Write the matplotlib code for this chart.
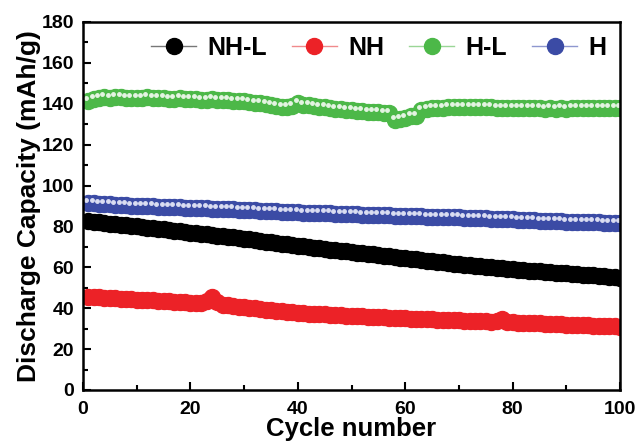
import numpy as np
import matplotlib
matplotlib.use("Agg")
import matplotlib.pyplot as plt
from matplotlib.ticker import MultipleLocator
from matplotlib.transforms import offset_copy

plt.rcParams['font.family'] = ['Liberation Sans', 'DejaVu Sans']
plt.rcParams['font.weight'] = 'bold'

cycles = list(range(1, 101))

# NH-L
nh_l = [82.6, 82.3, 82.0, 81.7, 81.4, 81.1, 80.8, 80.6, 80.3, 80.0,
        79.7, 79.4, 79.1, 78.8, 78.5, 78.2, 77.9, 77.6, 77.3, 77.0,
        76.7, 76.4, 76.1, 75.8, 75.5, 75.2, 74.9, 74.6, 74.3, 74.0,
        73.7, 73.3, 73.0, 72.6, 72.3, 71.9, 71.6, 71.2, 70.9, 70.5,
        70.2, 69.9, 69.6, 69.3, 69.0, 68.7, 68.4, 68.1, 67.8, 67.5,
        67.2, 66.9, 66.6, 66.3, 66.0, 65.7, 65.4, 65.1, 64.8, 64.5,
        64.2, 63.9, 63.6, 63.3, 63.0, 62.7, 62.4, 62.1, 61.8, 61.5,
        61.2, 61.0, 60.7, 60.5, 60.2, 60.0, 59.7, 59.5, 59.2, 59.0,
        58.8, 58.6, 58.4, 58.2, 58.0, 57.8, 57.6, 57.4, 57.2, 57.0,
        56.8, 56.6, 56.4, 56.2, 56.0, 55.8, 55.6, 55.4, 55.2, 55.0]

# NH
nh = [45.6, 45.4, 45.3, 45.1, 45.0, 44.8, 44.7, 44.5, 44.4, 44.2,
      44.1, 43.9, 43.8, 43.6, 43.5, 43.3, 43.2, 43.0, 42.9, 42.7,
      42.6, 42.4, 43.5, 45.5, 43.0, 41.8, 41.4, 41.0, 40.7, 40.4,
      40.1, 40.3, 39.6, 39.3, 39.0, 38.8, 38.5, 38.3, 38.0, 37.8,
      37.6, 37.4, 37.3, 37.1, 37.0, 36.8, 36.7, 36.5, 36.4, 36.2,
      36.1, 36.0, 35.8, 35.7, 35.6, 35.5, 35.3, 35.2, 35.1, 35.0,
      34.9, 34.8, 34.7, 34.6, 34.5, 34.4, 34.3, 34.2, 34.1, 34.0,
      33.9, 33.8, 33.7, 33.6, 33.5, 33.4, 33.5, 34.5, 33.4, 33.1,
      33.0, 32.9, 32.8, 32.7, 32.6, 32.4, 32.3, 32.2, 32.1, 32.0,
      31.9, 31.8, 31.7, 31.6, 31.5, 31.4, 31.3, 31.2, 31.1, 31.0]

# H-L
h_l = [141.5, 142.5, 143.0, 143.2, 143.0, 143.3, 143.1, 143.0, 142.8, 143.0,
       142.7, 143.2, 142.9, 142.6, 142.8, 142.5, 142.4, 142.6, 142.2, 142.1,
       142.3, 142.0, 141.8, 142.1, 141.9, 141.6, 141.8, 141.5, 141.3, 141.2,
       141.0, 140.6, 140.2, 139.8, 139.3, 138.8, 138.5, 138.3, 139.0, 140.2,
       139.6, 139.2, 138.8, 138.5, 138.2, 137.9, 137.6, 137.3, 137.0, 136.8,
       136.6, 136.4, 136.2, 136.0, 135.8, 135.6, 135.4, 132.0, 132.5, 133.0,
       133.8, 134.2, 137.0, 137.4, 137.7, 137.9, 138.1, 138.3, 138.4, 138.5,
       138.5, 138.4, 138.5, 138.3, 138.2, 138.3, 138.1, 138.0, 138.1, 137.9,
       137.9, 137.8, 137.9, 137.7, 137.8, 137.6, 137.7, 137.6, 137.7, 137.6,
       137.7, 137.8, 137.7, 137.8, 137.9, 137.8, 137.9, 138.0, 138.0, 138.1]

# H
h = [91.5, 91.3, 91.1, 91.0, 90.8, 90.7, 90.5, 90.4, 90.2, 90.1,
     90.0, 89.9, 89.8, 89.7, 89.6, 89.5, 89.4, 89.3, 89.2, 89.1,
     89.0, 88.9, 88.8, 88.7, 88.6, 88.5, 88.4, 88.3, 88.2, 88.1,
     88.0, 87.9, 87.7, 87.6, 87.5, 87.4, 87.2, 87.1, 87.0, 86.9,
     86.8, 86.7, 86.6, 86.5, 86.5, 86.4, 86.3, 86.2, 86.1, 86.0,
     85.9, 85.8, 85.8, 85.7, 85.6, 85.5, 85.4, 85.3, 85.2, 85.1,
     85.0, 85.0, 84.9, 84.8, 84.7, 84.7, 84.6, 84.5, 84.4, 84.4,
     84.3, 84.2, 84.1, 84.0, 83.9, 83.8, 83.7, 83.6, 83.5, 83.4,
     83.3, 83.2, 83.1, 83.0, 82.9, 82.8, 82.7, 82.6, 82.5, 82.4,
     82.3, 82.2, 82.2, 82.1, 82.0, 82.0, 81.9, 81.8, 81.8, 81.7]

labels = ['NH-L', 'NH', 'H-L', 'H']
colors = ['#000000', '#EC2227', '#4CB848', '#3B4BA5']
line_colors = ['#777777', '#F08A8C', '#9AD696', '#8E97CF']
shine = [None, None, '#E4F4E2', '#DADDF2']
series = [nh_l, nh, h_l, h]

fig = plt.figure(figsize=(6.36, 4.46), dpi=100)
ax = fig.add_axes([0.1305, 0.1256, 0.8445, 0.8251])

shine_tr = offset_copy(ax.transData, fig=fig, x=-2, y=3, units='dots')
for y, lab, c, lc, sc in zip(series, labels, colors, line_colors, shine):
    ax.plot(cycles, y, color=lc, lw=1, marker='o', ms=11.5, mfc=c, mec=c,
            label=lab)
    if sc is not None:
        ax.plot(cycles, y, ls='none', marker='o', ms=2.5, mfc=sc, mec=sc,
                transform=shine_tr)

ax.set_xlim(0, 100)
ax.set_ylim(0, 180)
ax.xaxis.set_major_locator(MultipleLocator(20))
ax.xaxis.set_minor_locator(MultipleLocator(10))
ax.yaxis.set_major_locator(MultipleLocator(20))
ax.yaxis.set_minor_locator(MultipleLocator(10))
ax.tick_params(which='both', direction='in', width=1.5, labelsize=14)
ax.tick_params(axis='x', which='both', pad=8)
ax.tick_params(axis='y', which='both', pad=6.5)
ax.tick_params(which='major', length=6)
ax.tick_params(which='minor', length=3.5)
for sp in ax.spines.values():
    sp.set_linewidth(1.8)

ax.set_xlabel('Cycle number', fontsize=18.5, fontweight='bold', labelpad=-1)
ax.set_ylabel('Discharge Capacity (mAh/g)', fontsize=19, fontweight='bold', labelpad=0)

ax.legend(loc='upper right', bbox_to_anchor=(1.0, 1.0), ncol=4, frameon=False,
          prop={'size': 18, 'weight': 'bold'}, handlelength=1.8,
          handletextpad=0.45, columnspacing=1.0, borderaxespad=0.1,
          borderpad=0.45)

fig.savefig('out.png', dpi=100)
